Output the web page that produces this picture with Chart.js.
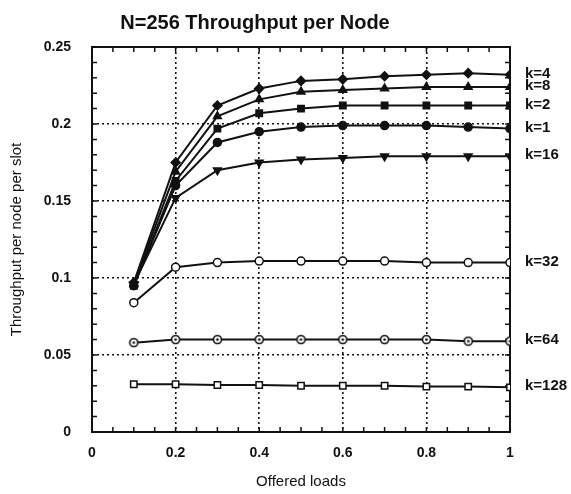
<!DOCTYPE html>
<html>
<head>
<meta charset="utf-8">
<script src="https://cdn.jsdelivr.net/npm/chart.js@4/dist/chart.umd.min.js"></script>
<style>
  html, body { margin: 0; padding: 0; background: #fff; }
  #wrap { width: 571px; height: 494px; }
</style>
</head>
<body>
<div id="wrap"><canvas id="chart" width="571" height="494"></canvas></div>
<script>
// offered load values on the x axis
const loads = [0.1, 0.2, 0.3, 0.4, 0.5, 0.6, 0.7, 0.8, 0.9, 1.0];

// throughput per node per slot, one array per k
const k4   = [0.097, 0.175, 0.212, 0.223, 0.228, 0.229, 0.231, 0.232, 0.233, 0.232];
const k8   = [0.096, 0.169, 0.205, 0.216, 0.221, 0.222, 0.223, 0.224, 0.224, 0.224];
const k2   = [0.095, 0.163, 0.197, 0.207, 0.210, 0.212, 0.212, 0.212, 0.212, 0.212];
const k1   = [0.095, 0.160, 0.188, 0.195, 0.198, 0.199, 0.199, 0.199, 0.198, 0.197];
const k16  = [0.096, 0.152, 0.170, 0.175, 0.177, 0.178, 0.179, 0.179, 0.179, 0.179];
const k32  = [0.084, 0.107, 0.110, 0.111, 0.111, 0.111, 0.111, 0.110, 0.110, 0.110];
const k64  = [0.058, 0.060, 0.060, 0.060, 0.060, 0.060, 0.060, 0.060, 0.059, 0.059];
const k128 = [0.031, 0.031, 0.0305, 0.0305, 0.030, 0.030, 0.030, 0.0295, 0.0295, 0.029];

const seriesNames = ['k=4', 'k=8', 'k=2', 'k=1', 'k=16', 'k=32', 'k=64', 'k=128'];
const seriesValues = [k4, k8, k2, k1, k16, k32, k64, k128];

// tick labels
const xTickValues = [0, 0.2, 0.4, 0.6, 0.8, 1];
const yTickValues = [0, 0.05, 0.1, 0.15, 0.2, 0.25];

const FONT = "'Liberation Sans', Arial, Helvetica, sans-serif";

// open circle with a dot in the middle (k=64)
function dotCircle() {
    const c = document.createElement('canvas');
    c.width = 11; c.height = 11;
    const g = c.getContext('2d');
    g.fillStyle = '#fff';
    g.strokeStyle = '#111';
    g.lineWidth = 1.6;
    g.beginPath(); g.arc(5.5, 5.5, 4, 0, Math.PI * 2); g.fill(); g.stroke();
    g.fillStyle = '#111';
    g.beginPath(); g.arc(5.5, 5.5, 1.3, 0, Math.PI * 2); g.fill();
    return c;
}

const markers = [
    { style: 'rectRot', r: 4.5, fill: '#111' },
    { style: 'triangle', r: 4.5, fill: '#111' },
    { style: 'rect', r: 4.5, fill: '#111' },
    { style: 'circle', r: 4, fill: '#111' },
    { style: 'triangle', r: 4.5, fill: '#111', rot: 180 },
    { style: 'circle', r: 4, fill: '#fff' },
    { style: dotCircle(), r: 4, fill: '#fff' },
    { style: 'rect', r: 4.5, fill: '#fff' }
];

const datasets = seriesNames.map((name, i) => ({
    label: name,
    data: loads.map((x, j) => ({ x: x, y: seriesValues[i][j] })),
    borderColor: '#111',
    borderWidth: 2,
    backgroundColor: markers[i].fill,
    pointStyle: markers[i].style,
    pointRadius: markers[i].r,
    pointRotation: markers[i].rot || 0,
    pointBorderColor: '#111',
    pointBorderWidth: 1.5,
    pointBackgroundColor: markers[i].fill,
    tension: 0
}));

const near = (a, b) => Math.abs(a - b) < 1e-6;

// frame, inward ticks and the k= labels at the line ends
const framePlugin = {
    id: 'frame',
    beforeDatasetsDraw(chart) {
        const { ctx, chartArea: a, scales } = chart;
        ctx.save();
        ctx.strokeStyle = '#111';
        ctx.lineWidth = 2;
        ctx.strokeRect(a.left, a.top, a.right - a.left, a.bottom - a.top);
        ctx.lineWidth = 1.5;
        ctx.beginPath();
        for (let i = 0; i <= 20; i++) {
            const px = scales.x.getPixelForValue(i * 0.05);
            ctx.moveTo(px, a.bottom); ctx.lineTo(px, a.bottom - 5);
            ctx.moveTo(px, a.top); ctx.lineTo(px, a.top + 5);
        }
        for (let i = 0; i <= 25; i++) {
            const py = scales.y.getPixelForValue(i * 0.01);
            ctx.moveTo(a.left, py); ctx.lineTo(a.left + 5, py);
            ctx.moveTo(a.right, py); ctx.lineTo(a.right - 5, py);
        }
        ctx.stroke();
        ctx.restore();
    },
    afterDraw(chart) {
        const { ctx, scales } = chart;
        ctx.save();
        ctx.fillStyle = '#111';
        ctx.font = 'bold 15px ' + FONT;
        ctx.textBaseline = 'middle';
        ctx.textAlign = 'left';
        seriesNames.forEach((name, i) => {
            const vals = seriesValues[i];
            const px = scales.x.getPixelForValue(loads[loads.length - 1]) + 15;
            const py = scales.y.getPixelForValue(vals[vals.length - 1]) - 1;
            ctx.fillText(name, px, py);
        });
        ctx.restore();
    }
};

new Chart(document.getElementById('chart'), {
    type: 'line',
    data: { datasets: datasets },
    plugins: [framePlugin],
    options: {
        responsive: false,
        animation: false,
        layout: { padding: { left: 0, right: 61, top: 0, bottom: 0 } },
        plugins: {
            legend: { display: false },
            tooltip: { enabled: false },
            title: {
                display: true,
                text: 'N=256 Throughput per Node',
                color: '#111',
                font: { family: FONT, size: 20, weight: 'bold' },
                padding: { top: 11, bottom: 12 }
            }
        },
        scales: {
            x: {
                type: 'linear',
                min: 0,
                max: 1,
                afterBuildTicks: s => { s.ticks = xTickValues.map(v => ({ value: v })); },
                afterFit: s => { s.height = 62; },
                ticks: {
                    color: '#111',
                    padding: 13,
                    font: { family: FONT, size: 14, weight: 'bold' },
                    callback: v => String(+v.toFixed(2))
                },
                grid: {
                    drawTicks: false,
                    lineWidth: 1.6,
                    color: c => (near(c.tick.value, 0) || near(c.tick.value, 1)) ? 'rgba(0,0,0,0)' : '#111'
                },
                border: { display: false, dash: [2, 3] },
                title: {
                    display: true,
                    text: 'Offered loads',
                    color: '#111',
                    font: { family: FONT, size: 15 },
                    padding: { top: 0, bottom: 3 }
                }
            },
            y: {
                type: 'linear',
                min: 0,
                max: 0.25,
                afterBuildTicks: s => { s.ticks = yTickValues.map(v => ({ value: v })); },
                afterFit: s => { s.width = 92; },
                ticks: {
                    color: '#111',
                    padding: 21,
                    font: { family: FONT, size: 14, weight: 'bold' },
                    callback: v => String(+v.toFixed(2))
                },
                grid: {
                    drawTicks: false,
                    lineWidth: 1.6,
                    color: c => (near(c.tick.value, 0) || near(c.tick.value, 0.25)) ? 'rgba(0,0,0,0)' : '#111'
                },
                border: { display: false, dash: [2, 3] },
                title: {
                    display: true,
                    text: 'Throughput per node per slot',
                    color: '#111',
                    font: { family: FONT, size: 15 },
                    padding: { top: 8, bottom: 0 }
                }
            }
        }
    }
});
</script>
</body>
</html>
